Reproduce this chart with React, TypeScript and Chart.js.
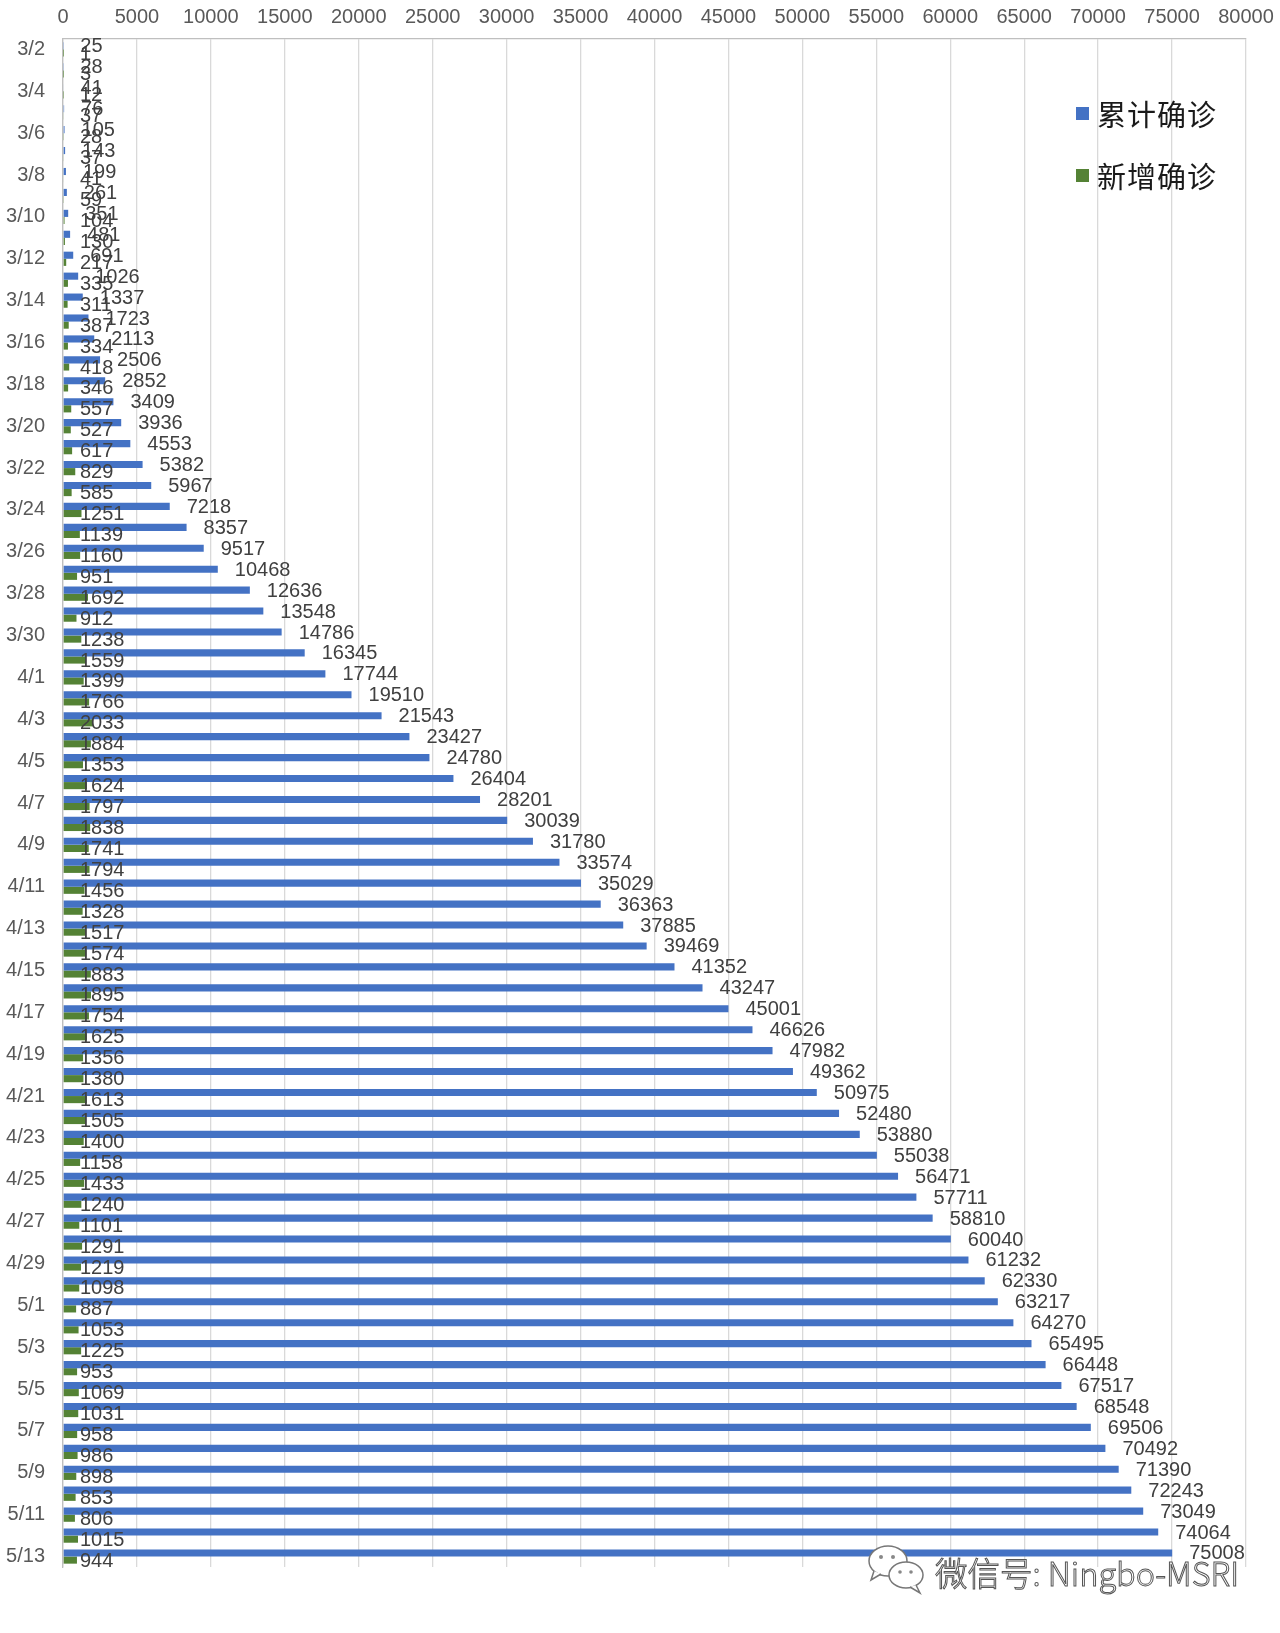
import React, { useEffect, useRef } from "react";
import { Chart, registerables } from "chart.js";

Chart.register(...registerables);

const dates: string[] = [
  "3/2", "3/3", "3/4", "3/5", "3/6", "3/7", "3/8", "3/9", "3/10", "3/11",
  "3/12", "3/13", "3/14", "3/15", "3/16", "3/17", "3/18", "3/19", "3/20", "3/21",
  "3/22", "3/23", "3/24", "3/25", "3/26", "3/27", "3/28", "3/29", "3/30", "3/31",
  "4/1", "4/2", "4/3", "4/4", "4/5", "4/6", "4/7", "4/8", "4/9", "4/10",
  "4/11", "4/12", "4/13", "4/14", "4/15", "4/16", "4/17", "4/18", "4/19", "4/20",
  "4/21", "4/22", "4/23", "4/24", "4/25", "4/26", "4/27", "4/28", "4/29", "4/30",
  "5/1", "5/2", "5/3", "5/4", "5/5", "5/6", "5/7", "5/8", "5/9", "5/10",
  "5/11", "5/12", "5/13",
];

const cumulative: number[] = [
  25, 28, 41, 76, 105, 143, 199, 261, 351, 481,
  691, 1026, 1337, 1723, 2113, 2506, 2852, 3409, 3936, 4553,
  5382, 5967, 7218, 8357, 9517, 10468, 12636, 13548, 14786, 16345,
  17744, 19510, 21543, 23427, 24780, 26404, 28201, 30039, 31780, 33574,
  35029, 36363, 37885, 39469, 41352, 43247, 45001, 46626, 47982, 49362,
  50975, 52480, 53880, 55038, 56471, 57711, 58810, 60040, 61232, 62330,
  63217, 64270, 65495, 66448, 67517, 68548, 69506, 70492, 71390, 72243,
  73049, 74064, 75008,
];

const daily: number[] = [
  1, 3, 12, 37, 28, 37, 41, 59, 104, 130,
  217, 335, 311, 387, 334, 418, 346, 557, 527, 617,
  829, 585, 1251, 1139, 1160, 951, 1692, 912, 1238, 1559,
  1399, 1766, 2033, 1884, 1353, 1624, 1797, 1838, 1741, 1794,
  1456, 1328, 1517, 1574, 1883, 1895, 1754, 1625, 1356, 1380,
  1613, 1505, 1400, 1158, 1433, 1240, 1101, 1291, 1219, 1098,
  887, 1053, 1225, 953, 1069, 1031, 958, 986, 898, 853,
  806, 1015, 944,
];

const seriesNames: string[] = ["累计确诊", "新增确诊"];
const xMax = 80000;
const xStep = 5000;

const BLUE = "#4472C4";
const GREEN = "#548235";

const labelPlugin = {
  id: "barValueLabels",
  afterDatasetsDraw(chart: any) {
    const ctx = chart.ctx;
    const x0 = chart.scales.x.getPixelForValue(0);
    ctx.save();
    ctx.font = '20px "Liberation Sans", Arial, sans-serif';
    ctx.fillStyle = "#404040";
    ctx.textAlign = "left";
    ctx.textBaseline = "middle";
    chart.data.datasets.forEach((ds: any, di: number) => {
      const meta = chart.getDatasetMeta(di);
      meta.data.forEach((bar: any, i: number) => {
        const v = ds.data[i];
        const x = di === 0 ? bar.x + 17 : x0 + 17;
        ctx.fillText(String(v), x, bar.y + 1);
      });
    });
    ctx.restore();
  },
};

export default function App() {
  const canvasRef = useRef<HTMLCanvasElement | null>(null);

  useEffect(() => {
    if (!canvasRef.current) return;
    const chart = new Chart(canvasRef.current, {
      type: "bar",
      data: {
        labels: dates,
        datasets: [
          {
            label: seriesNames[0],
            data: cumulative,
            backgroundColor: BLUE,
            categoryPercentage: 0.68,
            barPercentage: 1.0,
          },
          {
            label: seriesNames[1],
            data: daily,
            backgroundColor: GREEN,
            categoryPercentage: 0.68,
            barPercentage: 1.0,
          },
        ],
      },
      options: {
        indexAxis: "y",
        animation: false,
        responsive: false,
        events: [],
        layout: { padding: { top: 0, left: 0, right: 34, bottom: 66 } },
        plugins: {
          legend: { display: false },
          tooltip: { enabled: false },
        },
        scales: {
          x: {
            position: "top",
            min: 0,
            max: xMax,
            afterFit(scale: any) {
              scale.height = 39;
              scale.paddingLeft = 0;
              scale.paddingRight = 0;
            },
            ticks: {
              stepSize: xStep,
              padding: 10,
              color: "#595959",
              font: { family: '"Liberation Sans", Arial, sans-serif', size: 20 },
              callback: (v: any) => String(v),
            },
            grid: {
              color: "#d9d9d9",
              lineWidth: 1.3,
              drawTicks: false,
            },
            border: { display: true, color: "#bfbfbf", width: 1.3 },
          },
          y: {
            afterFit(scale: any) {
              scale.width = 63;
              scale.paddingTop = 0;
              scale.paddingBottom = 0;
            },
            ticks: {
              autoSkip: false,
              padding: 18,
              color: "#595959",
              font: { family: '"Liberation Sans", Arial, sans-serif', size: 20 },
              callback: (_v: any, i: number) => (i % 2 === 0 ? dates[i] : ""),
            },
            grid: { display: false, drawTicks: false },
            border: { display: true, color: "#bfbfbf", width: 1.3 },
          },
        },
      },
      plugins: [labelPlugin],
    });
    return () => chart.destroy();
  }, []);

  const legendText: React.CSSProperties = {
    fontFamily: '"Noto Sans CJK SC", sans-serif',
    fontSize: 29,
    color: "#1a1a1a",
    lineHeight: "32px",
    whiteSpace: "nowrap",
    letterSpacing: 1,
  };

  return (
    <div style={{ position: "absolute", left: 0, top: 0, width: 1280, height: 1633, background: "#fff" }}>
      <canvas ref={canvasRef} width={1280} height={1633} style={{ width: 1280, height: 1633, display: "block" }} />
      {[BLUE, GREEN].map((c, k) => (
        <div
          key={k}
          style={{ position: "absolute", left: 1076, top: 97 + k * 62, display: "flex", alignItems: "center" }}
        >
          <div style={{ width: 13, height: 13, background: c, marginRight: 8 }} />
          <span style={legendText}>{seriesNames[k]}</span>
        </div>
      ))}
      <svg style={{ position: "absolute", left: 866, top: 1544 }} width="62" height="52" viewBox="0 0 62 52">
        <ellipse cx="22" cy="17" rx="19" ry="15" fill="#fff" stroke="#777" strokeWidth="1.5" />
        <path d="M8 27 L5 36 L15 30" fill="#fff" stroke="#777" strokeWidth="1.5" />
        <circle cx="15" cy="13" r="2" fill="#888" />
        <circle cx="27" cy="13" r="2" fill="#888" />
        <ellipse cx="40" cy="31" rx="17" ry="13" fill="#fff" stroke="#777" strokeWidth="1.5" />
        <path d="M50 41 L54 49 L44 43" fill="#fff" stroke="#777" strokeWidth="1.5" />
        <circle cx="34" cy="28" r="1.8" fill="#888" />
        <circle cx="45" cy="28" r="1.8" fill="#888" />
      </svg>
      <div
        style={{
          position: "absolute",
          left: 935,
          top: 1552,
          fontFamily: '"Noto Sans CJK SC", sans-serif',
          fontSize: 32.5,
          lineHeight: "40px",
          color: "#fff",
          WebkitTextStroke: "1px #555",
          whiteSpace: "nowrap",
          fontWeight: 300,
        }}
      >
        微信号: Ningbo-MSRI
      </div>
    </div>
  );
}
